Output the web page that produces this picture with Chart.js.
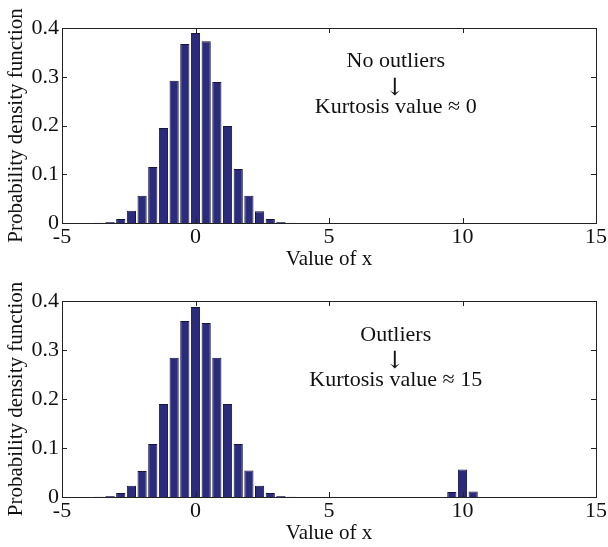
<!DOCTYPE html>
<html>
<head>
<meta charset="utf-8">
<script src="https://cdn.jsdelivr.net/npm/chart.js@4"></script>
<style>
  body { margin: 0; background: #fff; }
  #wrap { position: relative; width: 608px; height: 547px; }
  canvas { position: absolute; left: 0; }
</style>
</head>
<body>
<div id="wrap">
  <canvas id="top" width="608" height="273" style="top:0"></canvas>
  <canvas id="bottom" width="608" height="274" style="top:273px"></canvas>
</div>
<script>
// histogram bin centres and pdf heights
const binsNoOutliers = [-4.0, -3.6, -3.2, -2.8, -2.4, -2.0, -1.6, -1.2, -0.8, -0.4, 0, 0.4, 0.8, 1.2, 1.6, 2.0, 2.4, 2.8, 3.2, 3.6, 4.0];
const pdfNoOutliers = [0.0002, 0.0006, 0.002, 0.008, 0.025, 0.056, 0.115, 0.195, 0.292, 0.367, 0.390, 0.373, 0.289, 0.199, 0.111, 0.056, 0.024, 0.008, 0.002, 0.0006, 0.0002];

const binsOutliers = [-3.6, -3.2, -2.8, -2.4, -2.0, -1.6, -1.2, -0.8, -0.4, 0, 0.4, 0.8, 1.2, 1.6, 2.0, 2.4, 2.8, 3.2, 3.6, 9.6, 10.0, 10.4];
const pdfOutliers = [0.0003, 0.002, 0.008, 0.023, 0.053, 0.108, 0.19, 0.284, 0.359, 0.388, 0.355, 0.284, 0.19, 0.108, 0.054, 0.023, 0.008, 0.002, 0.0003, 0.01, 0.056, 0.011];

const xTicks = [-5, 0, 5, 10, 15];
const yTicks = [0, 0.1, 0.2, 0.3, 0.4];

const FONT = "'Liberation Serif', 'Times New Roman', serif";
const BAR_FILL = '#2b2b7d';
const BAR_EDGE = '#15153a';

// box round the axes with MATLAB style inward ticks, plus the note text
const matlabBox = {
    id: 'matlabBox',
    afterDraw(chart, args, opts) {
        const ctx = chart.ctx;
        const a = chart.chartArea;
        const xs = chart.scales.x, ys = chart.scales.y;
        ctx.save();
        ctx.strokeStyle = '#222';
        ctx.lineWidth = 1;
        ctx.strokeRect(a.left + 0.5, a.top + 0.5, a.right - a.left, a.bottom - a.top);
        ctx.beginPath();
        xTicks.forEach(v => {
            const px = Math.round(xs.getPixelForValue(v)) + 0.5;
            ctx.moveTo(px, a.bottom); ctx.lineTo(px, a.bottom - 5);
            ctx.moveTo(px, a.top); ctx.lineTo(px, a.top + 5);
        });
        yTicks.forEach(v => {
            const py = Math.round(ys.getPixelForValue(v)) + 0.5;
            ctx.moveTo(a.left, py); ctx.lineTo(a.left + 5, py);
            ctx.moveTo(a.right, py); ctx.lineTo(a.right - 5, py);
        });
        ctx.stroke();

        // annotation
        ctx.fillStyle = '#111';
        ctx.textAlign = 'center';
        ctx.textBaseline = 'middle';
        ctx.font = '22px ' + FONT;
        const cx = xs.getPixelForValue(7.5);
        ctx.fillText(opts.line1, cx, ys.getPixelForValue(0.331));
        ctx.font = '24px DejaVu Serif';
        ctx.fillText('\u2193', cx - 1, ys.getPixelForValue(0.276));
        ctx.font = '22px ' + FONT;
        ctx.fillText(opts.line2, cx, ys.getPixelForValue(0.238));
        ctx.restore();
    }
};

function makeChart(id, bins, values, line1, line2) {
    const ctx = document.getElementById(id).getContext('2d');
    return new Chart(ctx, {
        type: 'bar',
        data: {
            datasets: [{
                data: bins.map((b, i) => ({ x: b, y: values[i] })),
                backgroundColor: BAR_FILL,
                borderColor: BAR_EDGE,
                borderWidth: 1,
                barPercentage: 1.0,
                categoryPercentage: 0.86
            }]
        },
        options: {
            responsive: false,
            animation: false,
            devicePixelRatio: 1,
            layout: { padding: { top: 28, right: 10, left: 0, bottom: 0 } },
            plugins: {
                legend: { display: false },
                tooltip: { enabled: false },
                matlabBox: { line1: line1, line2: line2 }
            },
            scales: {
                x: {
                    type: 'linear',
                    min: -5,
                    max: 15,
                    offset: false,
                    afterFit: s => { s.height = 50; },
                    afterBuildTicks: s => { s.ticks = xTicks.map(v => ({ value: v })); },
                    grid: { display: false, drawTicks: false },
                    border: { display: false },
                    ticks: { color: '#111', font: { family: FONT, size: 22 }, padding: 1, maxRotation: 0 },
                    title: { display: true, text: 'Value of x', color: '#111', font: { family: FONT, size: 21 }, padding: { top: 0, bottom: 1 } }
                },
                y: {
                    min: 0,
                    max: 0.4,
                    afterFit: s => { s.width = 62; },
                    afterBuildTicks: s => { s.ticks = yTicks.map(v => ({ value: v })); },
                    grid: { display: false, drawTicks: false },
                    border: { display: false },
                    ticks: { color: '#111', font: { family: FONT, size: 22 }, padding: 3 },
                    title: { display: true, text: 'Probability density function', color: '#111', font: { family: FONT, size: 21 }, padding: { top: 4, bottom: 0 } }
                }
            }
        },
        plugins: [matlabBox]
    });
}

makeChart('top', binsNoOutliers, pdfNoOutliers, 'No outliers', 'Kurtosis value \u2248 0');
makeChart('bottom', binsOutliers, pdfOutliers, 'Outliers', 'Kurtosis value \u2248 15');
</script>
</body>
</html>
